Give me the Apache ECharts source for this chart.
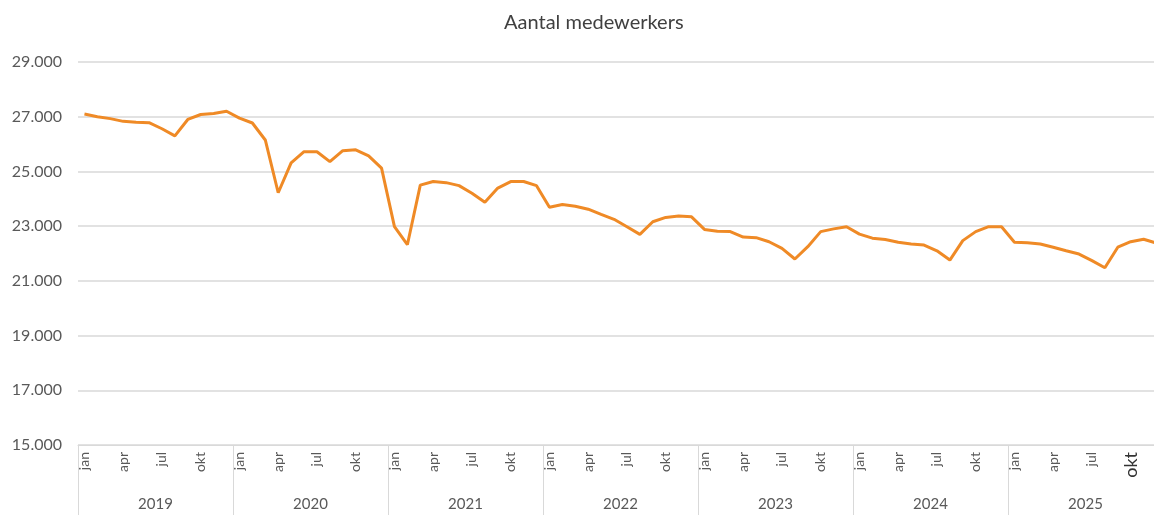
<!DOCTYPE html>
<html>
<head>
<meta charset="utf-8">
<title>Aantal medewerkers</title>
<script src="https://cdn.jsdelivr.net/npm/echarts@6/dist/echarts.min.js"></script>
<style>
  html, body { margin: 0; padding: 0; background: #fff; }
  #chart { width: 1154px; height: 515px; }
</style>
</head>
<body>
<div id="chart"></div>
<script>
// maanden en jaren
let monthNames = ['jan', 'feb', 'mrt', 'apr', 'mei', 'jun', 'jul', 'aug', 'sep', 'okt', 'nov', 'dec']
let years = ['2019', '2020', '2021', '2022', '2023', '2024', '2025']

let values2019 = [27100, 27000, 26930, 26830, 26800, 26780, 26560, 26300, 26900, 27080, 27120, 27200]
let values2020 = [26950, 26770, 26150, 24220, 25310, 25720, 25720, 25360, 25760, 25790, 25570, 25120]
let values2021 = [22980, 22320, 24500, 24630, 24590, 24480, 24200, 23870, 24390, 24630, 24630, 24480]
let values2022 = [23690, 23790, 23730, 23620, 23430, 23250, 22980, 22700, 23160, 23320, 23370, 23340]
let values2023 = [22880, 22810, 22800, 22600, 22580, 22430, 22190, 21800, 22250, 22800, 22900, 22980]
let values2024 = [22710, 22560, 22510, 22410, 22350, 22310, 22100, 21760, 22470, 22800, 22980, 22980]
let values2025 = [22410, 22390, 22350, 22230, 22100, 21980, 21740, 21480, 22230, 22430, 22520, 22380]

let yTicks = [15000, 17000, 19000, 21000, 23000, 25000, 27000, 29000]

let months = []
years.forEach(() => { months = months.concat(monthNames) })
let values = [].concat(values2019, values2020, values2021, values2022, values2023, values2024, values2025)

let font = 'Lato, "Open Sans", sans-serif'
let grey = '#595959'
let lineGrey = '#d9d9d9'

var myChart = echarts.init(document.getElementById('chart'), null, { renderer: 'canvas' })
myChart.setOption({
  animation: false,
  title: {
    text: 'Aantal medewerkers',
    left: 499,
    top: 8,
    textStyle: { fontFamily: font, fontSize: 20, fontWeight: 'normal', color: '#404040' }
  },
  // het plotgebied loopt iets voorbij de rechterrand (afgesneden)
  grid: { left: 78, width: 1085, top: 62, bottom: 70, outerBoundsMode: 'none', containLabel: false },
  xAxis: [{
    type: 'category',
    data: months,
    boundaryGap: true,
    axisLine: { show: true, lineStyle: { color: lineGrey } },
    axisTick: { show: false },
    axisLabel: {
      rotate: 90,
      margin: 7,
      interval: 0,
      fontFamily: font,
      fontSize: 14,
      color: grey,
      formatter: function (val, idx) {
        if (idx % 3 !== 0) return ''
        // laatste label groter weergegeven
        if (idx === months.length - 3) return '{big|' + val + '}'
        return val
      },
      rich: {
        big: { fontFamily: font, fontSize: 18, color: '#333' }
      }
    }
  }, {
    type: 'category',
    data: years,
    position: 'bottom',
    boundaryGap: true,
    axisLine: { show: false },
    axisTick: { show: true, length: 70, lineStyle: { color: lineGrey } },
    axisLabel: { margin: 52, fontFamily: font, fontSize: 15, color: grey }
  }],
  yAxis: {
    type: 'value',
    min: yTicks[0],
    max: yTicks[yTicks.length - 1],
    interval: 2000,
    axisLine: { show: false },
    axisTick: { show: false },
    splitLine: { lineStyle: { color: lineGrey, width: 1.5 } },
    axisLabel: {
      margin: 16,
      fontFamily: font,
      fontSize: 16,
      color: grey,
      formatter: function (v) {
        return String(v).replace(/\B(?=(\d{3})+(?!\d))/g, '.')
      }
    }
  },
  series: [{
    type: 'line',
    data: values,
    xAxisIndex: 0,
    symbol: 'none',
    lineStyle: { color: '#EF8A26', width: 3 }
  }]
})
</script>
</body>
</html>
